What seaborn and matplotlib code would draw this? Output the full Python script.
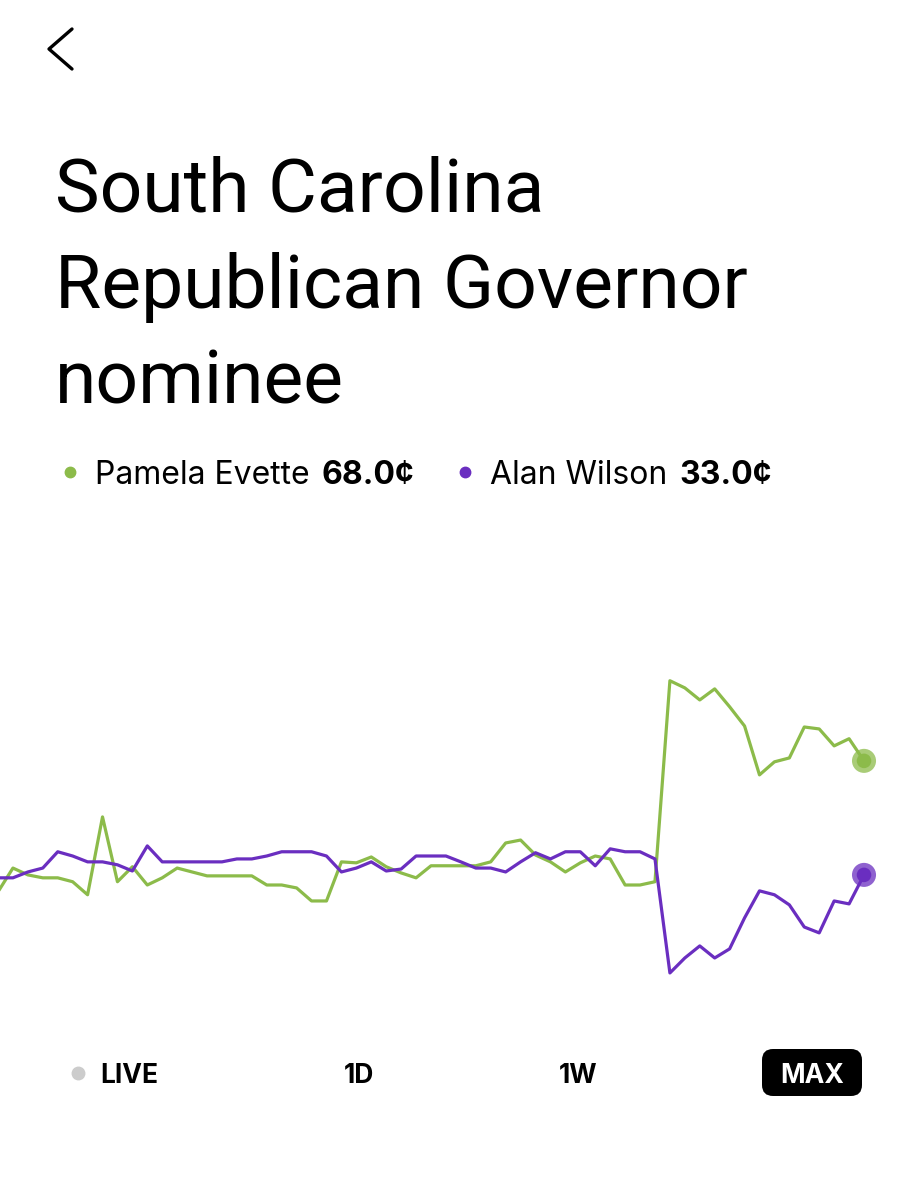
import matplotlib
matplotlib.use("Agg")
from matplotlib import pyplot as plt
from matplotlib.patches import FancyBboxPatch
from matplotlib.lines import Line2D
import numpy as np
import pandas as pd
import seaborn as sns

# candidate prices in cents, one reading per step
evette = [27.8, 35.1, 33.0, 32.1, 32.1, 30.9, 26.9, 50.8, 30.9, 35.5,
          29.9, 32.1, 35.1, 33.9, 32.7, 32.7, 32.7, 32.7, 29.9, 29.9,
          29.0, 25.0, 25.0, 37.0, 36.7, 38.5, 35.5, 33.6, 32.1, 35.8,
          35.8, 35.8, 35.8, 37.0, 42.8, 43.7, 39.1, 37.0, 33.9, 36.7,
          38.8, 37.9, 29.9, 29.9, 30.9, 92.6, 90.4, 86.7, 90.1, 84.6,
          78.7, 63.7, 67.7, 68.9, 78.4, 77.8, 72.6, 74.8, 68.0]
wilson = [32.1, 32.1, 33.9, 35.1, 40.1, 38.8, 37.0, 37.0, 36.1, 34.2,
          41.9, 37.0, 37.0, 37.0, 37.0, 37.0, 37.9, 37.9, 38.8, 40.1,
          40.1, 40.1, 38.8, 33.9, 35.1, 37.0, 34.2, 34.8, 38.8, 38.8,
          38.8, 37.0, 35.1, 35.1, 33.9, 37.0, 39.8, 37.9, 40.1, 40.1,
          35.8, 41.0, 40.1, 40.1, 37.9, 2.9, 7.5, 11.2, 7.5, 10.3,
          19.8, 28.1, 26.9, 23.8, 17.0, 15.2, 25.0, 24.1, 33.0]

names = ["Pamela Evette", "Alan Wilson"]
last_prices = ["68.0¢", "33.0¢"]
title_lines = ["South Carolina", "Republican Governor", "nominee"]
ranges = ["LIVE", "1D", "1W", "MAX"]

GREEN = "#8cbb4a"
PURPLE = "#6a2ec0"

sns.set_theme(style="white")
plt.rcParams['font.family'] = ['Inter', 'DejaVu Sans']
plt.rcParams['text.color'] = 'black'

df = pd.DataFrame({
    "step": list(range(len(evette))) * 2,
    "price": evette + wilson,
    "name": [names[0]] * len(evette) + [names[1]] * len(wilson),
})

W, H = 920, 1200
fig = plt.figure(figsize=(9.2, 12), dpi=100)
fig.patch.set_facecolor("white")


def px(x, y):
    return x / W, 1 - y / H


ax = fig.add_axes([0, 200 / H, 1, 360 / H])
sns.lineplot(data=df, x="step", y="price", hue="name",
             palette=[GREEN, PURPLE], linewidth=2.3, legend=False, ax=ax)
# end dots
ends = df.groupby("name", sort=False).tail(1)
ax.scatter(ends["step"], ends["price"], s=300, c=[GREEN, PURPLE],
           alpha=0.75, linewidths=0, zorder=4)
ax.scatter(ends["step"], ends["price"], s=110, c=[GREEN, PURPLE],
           linewidths=0, zorder=5)
ax.set_xlim(0.134, 61.75)
ax.set_ylim(-5.4, 105.1)
ax.axis("off")

# back chevron
fig.add_artist(Line2D([72 / W, 49 / W, 72 / W],
                      [1 - 29 / H, 1 - 49 / H, 1 - 69 / H],
                      color="black", linewidth=2.4))

# title
for i, line in enumerate(title_lines):
    fig.text(*px(55, 212 + 96 * i), line, fontsize=54, color="black",
             family=["Roboto", "DejaVu Sans"], va="baseline", ha="left")

# legend row
renderer = fig.canvas.get_renderer()
for name, price, color, x0 in zip(names, last_prices, [GREEN, PURPLE], [70, 465]):
    fig.add_artist(Line2D([x0 / W], [1 - 472 / H], marker="o", markersize=7.5,
                          color=color, linestyle="none"))
    t = fig.text(*px(x0 + 25, 484), name, fontsize=23, va="baseline", ha="left")
    bb = t.get_window_extent(renderer)
    fig.text(bb.x1 / W + 12 / W, 1 - 484 / H, price, fontsize=23,
             fontweight="bold", va="baseline", ha="left")

# range buttons
fig.add_artist(Line2D([78 / W], [1 - 1073 / H], marker="o", markersize=9,
                      color="#cccccc", linestyle="none"))
fig.text(*px(100, 1083), ranges[0], fontsize=19, fontweight="bold",
         va="baseline", ha="left")
fig.text(*px(359, 1083), ranges[1], fontsize=19, fontweight="bold",
         va="baseline", ha="center")
fig.text(*px(578, 1083), ranges[2], fontsize=19, fontweight="bold",
         va="baseline", ha="center")
box = FancyBboxPatch((px(762, 1096)), 100 / W, 47 / H,
                     boxstyle="round,pad=0,rounding_size=0.012",
                     transform=fig.transFigure, facecolor="black",
                     edgecolor="none", mutation_aspect=W / H)
fig.add_artist(box)
fig.text(*px(812, 1083), ranges[3], fontsize=19, fontweight="bold",
         color="white", va="baseline", ha="center")

fig.savefig("out.png", dpi=100, facecolor="white")
